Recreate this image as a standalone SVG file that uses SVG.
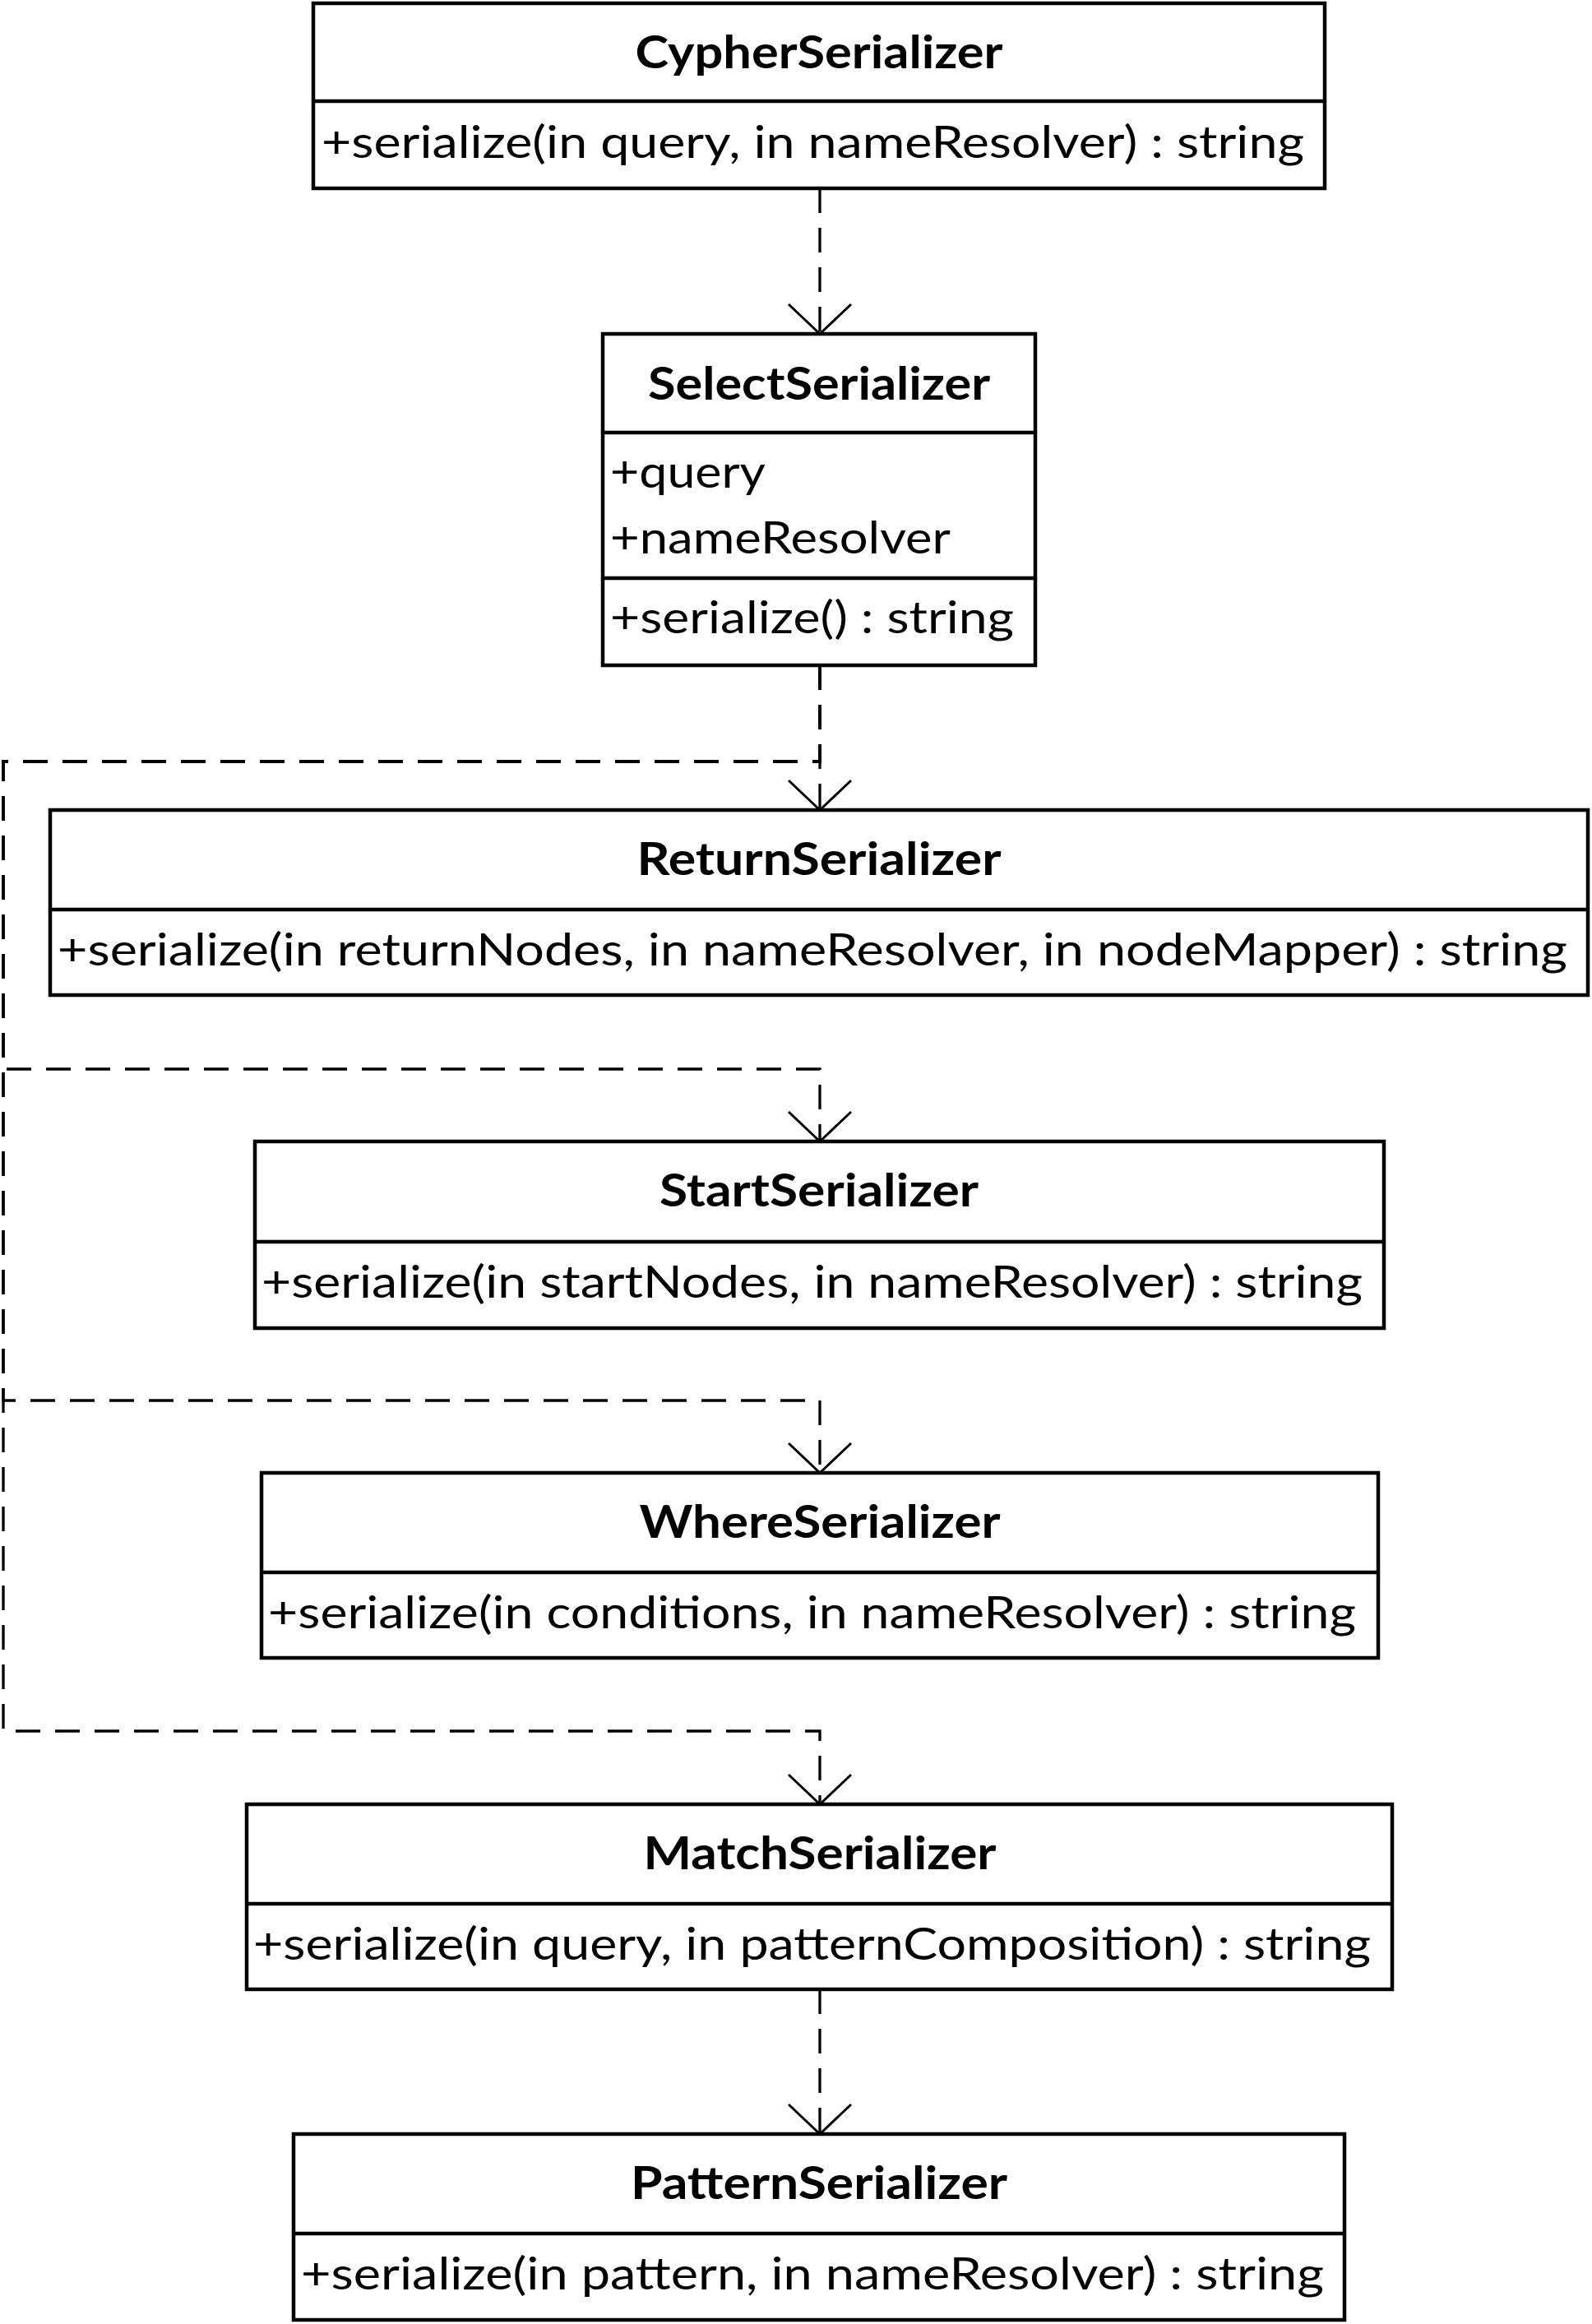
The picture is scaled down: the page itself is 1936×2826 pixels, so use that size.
<svg xmlns="http://www.w3.org/2000/svg" width="1936" height="2826" viewBox="0 0 1936 2826">
<style>
.box{fill:#fff;stroke:#000;stroke-width:4.5;stroke-linejoin:miter}
.div{stroke:#000;stroke-width:4.5}
.t{font-family:Lato,"Open Sans","Liberation Sans",sans-serif;font-size:55px;font-weight:bold;fill:#000;text-anchor:middle}
.m{font-family:Lato,"Open Sans","Liberation Sans",sans-serif;font-size:55px;fill:#000}
.con{fill:none;stroke:#000;stroke-width:3.3;stroke-dasharray:30 18}
</style>
<defs>
<marker id="open" markerUnits="userSpaceOnUse" viewBox="-45 -45 90 90" markerWidth="90" markerHeight="90" refX="0" refY="0" orient="auto" overflow="visible">
<path d="M-36,-38 L0,0 L-36,38" fill="none" stroke="#000" stroke-width="3" stroke-dasharray="none"/>
</marker>
</defs>
<g id="connectors">
<path class="con" d="M997,229 V406" marker-end="url(#open)"/>
<path class="con" d="M997,809 V985" marker-end="url(#open)"/>
<path class="con" d="M997,809 V926 H4 V1300 H997 V1388" marker-end="url(#open)"/>
<path class="con" d="M997,809 V926 H4 V1703 H997 V1791" marker-end="url(#open)"/>
<path class="con" d="M997,809 V926 H4 V2105 H997 V2194" marker-end="url(#open)"/>
<path class="con" d="M997,2419 V2595" marker-end="url(#open)"/>
</g>
<g id="CypherSerializer">
<rect class="box" x="381" y="4" width="1230" height="225"/>
<line class="div" x1="381" y1="123" x2="1611" y2="123"/>
<text class="t" x="996" y="83" textLength="447" lengthAdjust="spacingAndGlyphs">CypherSerializer</text>
<text class="m" x="391" y="192" textLength="1195" lengthAdjust="spacingAndGlyphs">+serialize(in query, in nameResolver) : string</text>
</g>
<g id="SelectSerializer">
<rect class="box" x="733" y="406" width="526" height="403"/>
<line class="div" x1="733" y1="526" x2="1259" y2="526"/>
<line class="div" x1="733" y1="703" x2="1259" y2="703"/>
<text class="t" x="996" y="486" textLength="416" lengthAdjust="spacingAndGlyphs">SelectSerializer</text>
<text class="m" x="742" y="593" textLength="189" lengthAdjust="spacingAndGlyphs">+query</text>
<text class="m" x="742" y="673" textLength="414" lengthAdjust="spacingAndGlyphs">+nameResolver</text>
<text class="m" x="742" y="770" textLength="491" lengthAdjust="spacingAndGlyphs">+serialize() : string</text>
</g>
<g id="ReturnSerializer">
<rect class="box" x="61" y="985" width="1870" height="225"/>
<line class="div" x1="61" y1="1106" x2="1931" y2="1106"/>
<text class="t" x="996" y="1064" textLength="443" lengthAdjust="spacingAndGlyphs">ReturnSerializer</text>
<text class="m" x="70" y="1174" textLength="1836" lengthAdjust="spacingAndGlyphs">+serialize(in returnNodes, in nameResolver, in nodeMapper) : string</text>
</g>
<g id="StartSerializer">
<rect class="box" x="310" y="1388" width="1373" height="227"/>
<line class="div" x1="310" y1="1510" x2="1683" y2="1510"/>
<text class="t" x="996" y="1467" textLength="388" lengthAdjust="spacingAndGlyphs">StartSerializer</text>
<text class="m" x="318" y="1578" textLength="1339" lengthAdjust="spacingAndGlyphs">+serialize(in startNodes, in nameResolver) : string</text>
</g>
<g id="WhereSerializer">
<rect class="box" x="318" y="1791" width="1358" height="225"/>
<line class="div" x1="318" y1="1912" x2="1676" y2="1912"/>
<text class="t" x="997" y="1870" textLength="439" lengthAdjust="spacingAndGlyphs">WhereSerializer</text>
<text class="m" x="326" y="1980" textLength="1323" lengthAdjust="spacingAndGlyphs">+serialize(in conditions, in nameResolver) : string</text>
</g>
<g id="MatchSerializer">
<rect class="box" x="300" y="2194" width="1393" height="225"/>
<line class="div" x1="300" y1="2315" x2="1693" y2="2315"/>
<text class="t" x="997" y="2273" textLength="429" lengthAdjust="spacingAndGlyphs">MatchSerializer</text>
<text class="m" x="308" y="2383" textLength="1359" lengthAdjust="spacingAndGlyphs">+serialize(in query, in patternComposition) : string</text>
</g>
<g id="PatternSerializer">
<rect class="box" x="357" y="2595" width="1278" height="226"/>
<line class="div" x1="357" y1="2716" x2="1635" y2="2716"/>
<text class="t" x="996" y="2674" textLength="458" lengthAdjust="spacingAndGlyphs">PatternSerializer</text>
<text class="m" x="366" y="2784" textLength="1244" lengthAdjust="spacingAndGlyphs">+serialize(in pattern, in nameResolver) : string</text>
</g>
</svg>
